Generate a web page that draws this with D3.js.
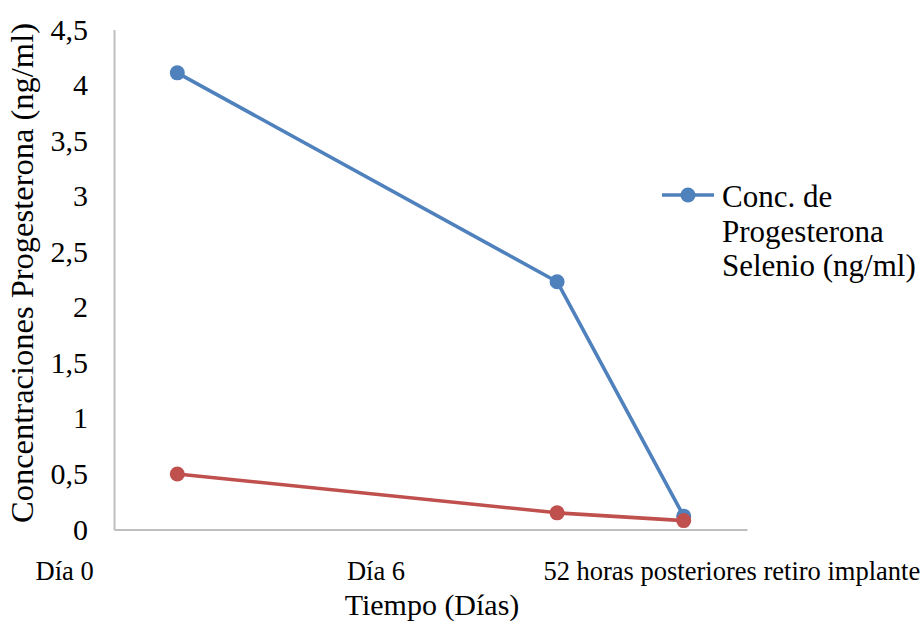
<!DOCTYPE html>
<html>
<head>
<meta charset="utf-8">
<script src="https://cdn.jsdelivr.net/npm/d3@7"></script>
<style>
  html, body { margin: 0; padding: 0; background: #fff; }
  svg { display: block; font-family: "Liberation Serif", "Times New Roman", serif; }
</style>
</head>
<body>
<svg id="chart" width="924" height="628"></svg>
<script>
// ---- data ----
const categories = ["Día 0", "Día 6", "52 horas posteriores retiro implante"];
const days = [0, 6, 8];
const seriesBlue = [4.11, 2.23, 0.12];
const seriesRed = [0.50, 0.15, 0.08];
const yTicks = [0, 0.5, 1, 1.5, 2, 2.5, 3, 3.5, 4, 4.5];
const legendLabel = ["Conc. de", "Progesterona", "Selenio (ng/ml)"];

// ---- layout ----
const labelDays = [-1.78, 3.14, 8.76];   // where the category labels sit on the day axis
const svg = d3.select("#chart");
const x = d3.scaleLinear().domain([-1, 9]).range([114, 747]);
const y = d3.scaleLinear().domain([0, 4.5]).range([529.5, 29.5]);
const fmt = v => String(v).replace(".", ",");

// axes
const yAxis = svg.append("g").attr("transform", `translate(${x(-1)},0)`)
  .call(d3.axisLeft(y).tickValues(yTicks).tickSize(0).tickPadding(26).tickFormat(fmt));
yAxis.select(".domain").attr("stroke", "#BFBFBF").attr("stroke-width", 2);
yAxis.selectAll("text").attr("font-size", 30).attr("fill", "#000")
  .attr("font-family", "Liberation Serif");

const xAxis = svg.append("g").attr("transform", `translate(0,${y(0)})`)
  .call(d3.axisBottom(x).tickValues([]).tickSize(0));
xAxis.select(".domain").attr("stroke", "#BFBFBF").attr("stroke-width", 2);

// category labels
svg.append("g").selectAll("text").data(categories).join("text")
  .attr("x", (d, i) => x(labelDays[i]))
  .attr("y", 580)
  .attr("text-anchor", "middle")
  .attr("font-size", 26.5)
  .attr("fill", "#000")
  .text(d => d);

// axis titles
svg.append("text").attr("x", 432).attr("y", 615).attr("text-anchor", "middle")
  .attr("font-size", 30).attr("fill", "#000").text("Tiempo (Días)");
svg.append("text").attr("transform", "translate(33,273) rotate(-90)")
  .attr("text-anchor", "middle").attr("font-size", 32.5).attr("fill", "#000")
  .text("Concentraciones Progesterona (ng/ml)");

// series
const series = [
  { values: seriesRed, color: "#C0504D" },
  { values: seriesBlue, color: "#4F81BD" }
];
const line = d3.line().x(d => x(d[0])).y(d => y(d[1]));
series.forEach(s => {
  const pts = days.map((d, i) => [d, s.values[i]]);
  svg.append("path").datum(pts).attr("d", line)
    .attr("fill", "none").attr("stroke", s.color).attr("stroke-width", 3.6)
    .attr("stroke-linejoin", "round");
});
// markers: blue first then red on top (as in reference)
[series[1], series[0]].forEach(s => {
  svg.append("g").selectAll("circle").data(days.map((d, i) => [d, s.values[i]])).join("circle")
    .attr("cx", d => x(d[0])).attr("cy", d => y(d[1])).attr("r", 7.5).attr("fill", s.color);
});

// legend
const lg = svg.append("g").attr("transform", "translate(662,195)");
lg.append("line").attr("x1", 0).attr("x2", 52).attr("y1", 0).attr("y2", 0)
  .attr("stroke", "#4F81BD").attr("stroke-width", 3.6);
lg.append("circle").attr("cx", 26).attr("cy", 0).attr("r", 7.5).attr("fill", "#4F81BD");
lg.selectAll("text").data(legendLabel).join("text")
  .attr("x", 60).attr("y", (d, i) => 12 + i * 34.5)
  .attr("font-size", 31).attr("fill", "#000").text(d => d);
</script>
</body>
</html>
